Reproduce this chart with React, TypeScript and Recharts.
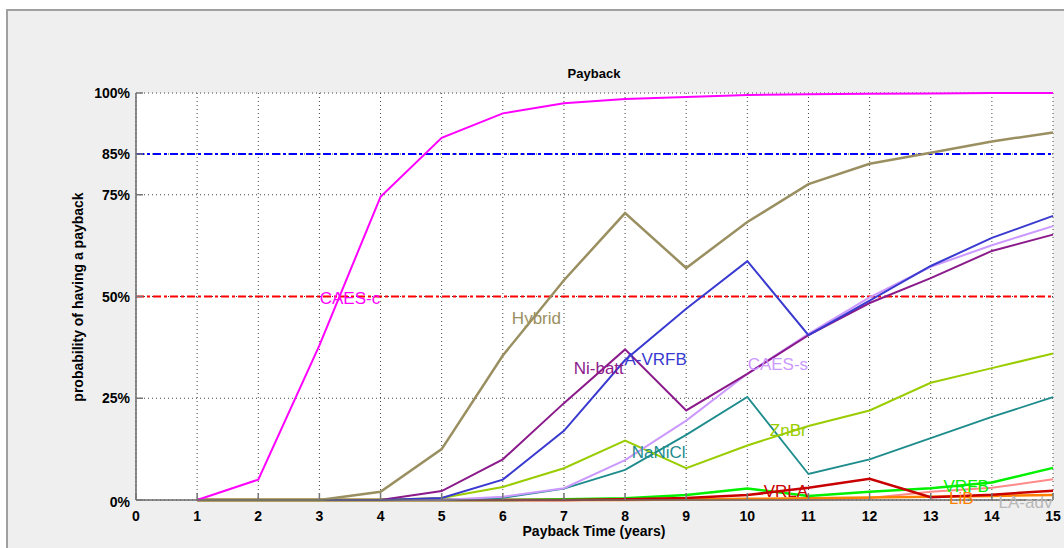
import React from 'react';
import { LineChart, Line, XAxis, YAxis, CartesianGrid, ReferenceLine, ReferenceDot } from 'recharts';

const years = [1, 2, 3, 4, 5, 6, 7, 8, 9, 10, 11, 12, 13, 14, 15];
const caesC = [0, 5, 38, 74.5, 89, 95, 97.5, 98.5, 99, 99.5, 99.7, 99.8, 99.9, 100, 100];
const hybrid = [0, 0, 0, 2, 12.5, 35.5, 54, 70.5, 57, 68.3, 77.6, 82.6, 85.3, 88.1, 90.3];
const aVrfb = [0, 0, 0, 0, 0.5, 5, 17, 34.4, 47, 58.7, 40.5, 49, 57.5, 64.4, 69.8];
const niBatt = [0, 0, 0, 0, 2.2, 10, 23.8, 37, 22, 31, 40.5, 48.4, 54.5, 61.2, 65.2];
const caesS = [0, 0, 0, 0, 0, 0.8, 2.9, 9.8, 19.5, 31, 40.8, 49.8, 57.3, 62.6, 67.3];
const znBr = [0, 0, 0, 0, 0.5, 3.2, 7.8, 14.6, 7.8, 13.4, 18.2, 22, 28.8, 32.4, 36];
const naNiCl = [0, 0, 0, 0, 0, 0.5, 2.8, 7.4, 16, 25.3, 6.4, 10, 15.2, 20.4, 25.3];
const vrla = [0, 0, 0, 0, 0, 0, 0, 0.2, 0.5, 1.2, 3, 5.2, 0.7, 1.3, 2.3];
const vrfb = [0, 0, 0, 0, 0, 0, 0.2, 0.4, 1.2, 2.8, 1, 2, 2.9, 4.3, 7.9];
const lib = [0, 0, 0, 0, 0, 0, 0, 0, 0.1, 0.3, 0.4, 0.6, 0.8, 1, 1.2];
const laAdv = [0, 0, 0, 0, 0, 0, 0, 0, 0, 0, 0, 0.5, 2, 3, 5.1];

const xTicks = [0, 1, 2, 3, 4, 5, 6, 7, 8, 9, 10, 11, 12, 13, 14, 15];
const yTicks = [0, 25, 50, 75, 85, 100];

// series: key, values, colour, width
const series = [
  { key: 'laAdv', values: laAdv, color: '#ff8a8a', width: 2 },
  { key: 'lib', values: lib, color: '#ff8000', width: 2.5 },
  { key: 'vrfb', values: vrfb, color: '#00f000', width: 2.5 },
  { key: 'vrla', values: vrla, color: '#c80000', width: 2.5 },
  { key: 'naNiCl', values: naNiCl, color: '#1e8c8c', width: 1.8 },
  { key: 'znBr', values: znBr, color: '#9acd00', width: 2 },
  { key: 'caesS', values: caesS, color: '#cc99ff', width: 2 },
  { key: 'niBatt', values: niBatt, color: '#8b1a8b', width: 2 },
  { key: 'aVrfb', values: aVrfb, color: '#3a3ad0', width: 2 },
  { key: 'hybrid', values: hybrid, color: '#9a8f60', width: 2.5 },
  { key: 'caesC', values: caesC, color: '#ff00ff', width: 2 },
];

// in-plot labels: text, x (years), y (%), colour
const labelNames = ['CAES-c', 'Hybrid', 'Ni-batt', 'A-VRFB', 'CAES-s', 'NaNiCl', 'ZnBr', 'VRLA', 'VRFB', 'LiB', 'LA-adv'];
const labelX = [3.5, 6.55, 7.57, 8.5, 10.5, 8.55, 10.67, 10.63, 13.58, 13.5, 14.55];
const labelY = [49.6, 44.7, 32.4, 34.6, 33.4, 11.8, 17.2, 2.2, 3.4, 0.6, -0.4];
const labelColors = ['#ff00ff', '#9a8f60', '#8b1a8b', '#3a3ad0', '#cc99ff', '#1e8c8c', '#9acd00', '#c80000', '#00f000', '#ff8000', '#b8b8b8'];

const data = years.map((year, i) => {
  const row: any = { year };
  series.forEach(s => { row[s.key] = s.values[i]; });
  return row;
});

const FONT = '"Liberation Sans", Arial, sans-serif';
const TICK_COLOR = '#777';

const BottomTick = (props: any) => {
  const { x, y, payload } = props;
  return (
    <g>
      <line x1={x} x2={x} y1={y - 8} y2={y - 15} stroke={TICK_COLOR} strokeWidth={1.5} />
      <text x={x} y={y} dy={13} textAnchor="middle" fontFamily={FONT} fontSize={14} fontWeight="bold" fill="#000">{payload.value}</text>
    </g>
  );
};

const TopTick = (props: any) => {
  const { x, y } = props;
  return <line x1={x} x2={x} y1={y} y2={y + 7} stroke={TICK_COLOR} strokeWidth={1.5} />;
};

const LeftTick = (props: any) => {
  const { x, y, payload } = props;
  return (
    <g>
      <line x1={x + 6} x2={x + 13} y1={y} y2={y} stroke={TICK_COLOR} strokeWidth={1.5} />
      <text x={x} y={y} dy={payload.value === 0 ? 7 : 5} textAnchor="end" fontFamily={FONT} fontSize={14} fontWeight="bold" fill="#000">{payload.value}%</text>
    </g>
  );
};

const RightTick = (props: any) => {
  const { x, y } = props;
  return <line x1={x - 7} x2={x} y1={y} y2={y} stroke={TICK_COLOR} strokeWidth={1.5} />;
};

const App: React.FC = () => {
  return (
    <div style={{ position: 'absolute', left: 0, top: 0, width: 1064, height: 548, background: '#fff', overflow: 'hidden', fontFamily: FONT }}>
      <div style={{ position: 'absolute', left: 6, top: 9, width: 1058, height: 539, background: '#efefef', borderLeft: '2px solid #a0a0a0', borderTop: '2px solid #a0a0a0' }} />
      <div style={{ position: 'absolute', left: 0, top: 0 }}>
        <LineChart width={1064} height={548} data={data} margin={{ top: 93, right: 11, bottom: 18, left: 86 }}>
          <CartesianGrid xAxisId="b" yAxisId="l" stroke="#444" strokeDasharray="1 3" fill="#fff" fillOpacity={1} />
          <XAxis xAxisId="b" dataKey="year" type="number" domain={[0, 15]} ticks={xTicks} interval={0}
            height={30} tickSize={0} tickMargin={8} tickLine={false} tick={<BottomTick />}
            axisLine={{ stroke: '#6a6a6a', strokeWidth: 1.5 }} />
          <XAxis xAxisId="t" orientation="top" dataKey="year" type="number" domain={[0, 15]} ticks={xTicks} interval={0}
            height={0} tickSize={0} tickMargin={0} tickLine={false} tick={<TopTick />}
            axisLine={{ stroke: '#6a6a6a', strokeWidth: 1.5 }} />
          <YAxis yAxisId="l" type="number" domain={[0, 100]} ticks={yTicks} interval={0}
            width={50} tickSize={0} tickMargin={6} tickLine={false} tick={<LeftTick />}
            axisLine={{ stroke: '#6a6a6a', strokeWidth: 1.5 }} />
          <YAxis yAxisId="r" orientation="right" type="number" domain={[0, 100]} ticks={yTicks} interval={0}
            width={0} tickSize={0} tickMargin={0} tickLine={false} tick={<RightTick />}
            axisLine={{ stroke: '#6a6a6a', strokeWidth: 1.5 }} />
          <ReferenceLine xAxisId="b" yAxisId="l" y={85} stroke="#0000ff" strokeWidth={2} strokeDasharray="8 3 3 3" />
          <ReferenceLine xAxisId="b" yAxisId="l" y={50} stroke="#ff0000" strokeWidth={2} strokeDasharray="8 3 3 3" />
          {series.map(s => (
            <Line key={s.key} xAxisId="b" yAxisId="l" type="linear" dataKey={s.key} stroke={s.color}
              strokeWidth={s.width} dot={false} activeDot={false} isAnimationActive={false} />
          ))}
          {labelNames.map((name, i) => (
            <ReferenceDot key={name} xAxisId="b" yAxisId="l" x={labelX[i]} y={labelY[i]} r={0} stroke="none" fill="none"
              ifOverflow="visible"
              label={{ value: name, position: 'center', fill: labelColors[i], fontSize: 17, fontFamily: FONT }} />
          ))}
        </LineChart>
      </div>
      <div style={{ position: 'absolute', left: 494, width: 200, top: 66, textAlign: 'center', fontSize: 13, fontWeight: 'bold' }}>Payback</div>
      <div style={{ position: 'absolute', left: 444, width: 300, top: 523, textAlign: 'center', fontSize: 14, fontWeight: 'bold' }}>Payback Time (years)</div>
      <div style={{ position: 'absolute', left: 78 - 150, width: 300, top: 297 - 9, textAlign: 'center', fontSize: 14, fontWeight: 'bold', transform: 'rotate(-90deg)', lineHeight: '18px' }}>probability of having a payback</div>
    </div>
  );
};

export default App;
